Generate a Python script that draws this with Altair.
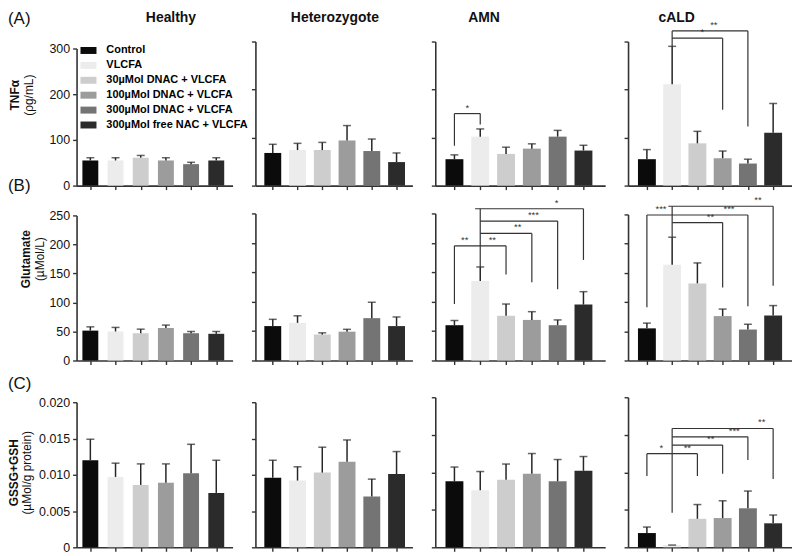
import altair as alt
import pandas as pd

FONT = "Liberation Sans"
AX = "#333333"
ERR = "#262626"

groups = ["Control", "VLCFA", "30µMol DNAC + VLCFA", "100µMol DNAC + VLCFA",
          "300µMol DNAC + VLCFA", "300µMol free NAC + VLCFA"]
bar_colors = ["#0b0b0b", "#ececec", "#cdcdcd", "#9c9c9c", "#747474", "#2b2b2b"]
columns = ["Healthy", "Heterozygote", "AMN", "cALD"]

# (A) TNFα (pg/mL): bar means and upper error-bar ends
tnf_mean = {"Healthy": [55, 55, 61, 55, 47, 55],
            "Heterozygote": [68, 74, 74, 94, 72, 49],
            "AMN": [55, 102, 66, 77, 102, 73],
            "cALD": [55, 211, 88, 57, 46, 110]}
tnf_top = {"Healthy": [61, 61, 66, 61, 51, 61],
           "Heterozygote": [86, 88, 90, 125, 97, 68],
           "AMN": [64, 118, 80, 87, 115, 84],
           "cALD": [75, 290, 113, 72, 55, 171]}

# (B) Glutamate (µMol/L)
glu_mean = {"Healthy": [51.5, 50, 47, 56, 47, 46],
            "Heterozygote": [58.5, 64, 44, 49, 72, 58.5],
            "AMN": [60, 135, 76, 69, 60, 95],
            "cALD": [55, 164, 132, 76, 53, 77]}
glu_top = {"Healthy": [58, 57, 54, 61, 50, 50],
           "Heterozygote": [70, 76, 47, 53, 99, 74],
           "AMN": [68, 159, 96, 83, 69, 117],
           "cALD": [64, 211, 167, 88, 62, 94]}

# (C) GSSG+GSH (µMol/g protein)
gsh_mean = {"Healthy": [0.0120, 0.0097, 0.0086, 0.0089, 0.0102, 0.0075],
            "Heterozygote": [0.0096, 0.0092, 0.0103, 0.0118, 0.0070, 0.0101],
            "AMN": [0.0088, 0.0076, 0.0090, 0.0098, 0.0088, 0.0102],
            "cALD": [0.0019, 0.0003, 0.0038, 0.0039, 0.0052, 0.0032]}
gsh_top = {"Healthy": [0.0149, 0.0116, 0.0115, 0.0115, 0.0142, 0.0120],
           "Heterozygote": [0.0120, 0.0111, 0.0138, 0.0148, 0.0094, 0.0132],
           "AMN": [0.0107, 0.0101, 0.0111, 0.0125, 0.0117, 0.0121],
           "cALD": [0.0027, 0.0003, 0.0057, 0.0062, 0.0075, 0.0043]}

# significance brackets: h = (from bar, to bar, level), v = (bar, low end, high end), s = (position, level, stars)
brackets = {
    ("A", "AMN"): {"h": [(0, 1, 150)],
                   "v": [(0, 83, 150), (1, 127, 150)],
                   "s": [(0.5, 150, "*")]},
    ("A", "cALD"): {"h": [(1, 3, 307), (1, 4, 322)],
                    "v": [(1, 290, 322), (3, 158, 307), (4, 123, 322)],
                    "s": [(2.2, 307, "*"), (2.65, 322, "**")]},
    ("B", "AMN"): {"h": [(0, 2, 195), (1, 3, 216), (1, 4, 237), (0.8, 5, 258)],
                   "v": [(0, 96, 195), (2, 146, 195), (3, 133, 216), (4, 121, 237),
                         (5, 171, 258), (1, 159, 258)],
                   "s": [(0.4, 195, "**"), (1.47, 195, "**"), (2.45, 216, "**"),
                         (3.06, 237, "***"), (3.96, 258, "*")]},
    ("B", "cALD"): {"h": [(0, 4, 249), (1, 3, 236), (0.85, 5, 264)],
                    "v": [(0, 91, 249), (3, 125, 236), (4, 93, 249), (5, 128, 264),
                          (1, 211, 264)],
                    "s": [(0.56, 249, "***"), (3.25, 249, "***"), (2.52, 236, "**"),
                          (4.4, 264, "**")]},
    ("C", "cALD"): {"h": [(0, 2, 0.01248), (1, 3, 0.01363), (1, 4, 0.01473), (1, 5, 0.01584)],
                    "v": [(0, 0.0095, 0.01248), (2, 0.0095, 0.01248), (3, 0.0098, 0.01363),
                          (4, 0.01164, 0.01473), (5, 0.00912, 0.01584), (1, 0.0046, 0.01584)],
                    "s": [(0.57, 0.01248, "*"), (1.6, 0.01248, "**"), (2.53, 0.01363, "**"),
                          (3.46, 0.01473, "***"), (4.55, 0.01584, "**")]},
}

panel_widths = [157, 158, 171, 165]
x_domains = [[-0.35, 5.45], [-0.5, 5.44], [-0.55, 5.65], [-0.55, 5.55]]
bar_sizes = [16, 17, 18, 18]
title_x = [95, 80, 49, 49]

rows = [
    dict(key="A", label="(A)", label_y=-18, means=tnf_mean, tops=tnf_top, height=145,
         top_gap=[7, 0, 0, 0],
         domain=[0, 300], ticks=[0, 100, 200, 300], fmt="format(datum.value, 'd')",
         ytitle=("TNFα", "(ρg/mL)"), tx=(-62, -48), ty=54),
    dict(key="B", label="(B)", label_y=-23, means=glu_mean, tops=glu_top, height=148,
         top_gap=[2, 0, 0, 1],
         domain=[0, 250], ticks=[0, 50, 100, 150, 200, 250], fmt="format(datum.value, 'd')",
         ytitle=("Glutamate", "(µMol/L)"), tx=(-51, -37), ty=46),
    dict(key="C", label="(C)", label_y=1, means=gsh_mean, tops=gsh_top, height=160,
         top_gap=[14, 14, 9, 9],
         domain=[0, 0.02], ticks=[0, 0.005, 0.01, 0.015, 0.02],
         fmt="datum.value == 0 ? '0' : format(datum.value, '.3f')",
         ytitle=("GSSG+GSH", "(µMol/g protein)"), tx=(-63, -50), ty=85),
]


def text_layer(txt, x, y, size, weight="normal", angle=0, align="left", baseline="alphabetic"):
    return alt.Chart(pd.DataFrame({"t": [txt]})).mark_text(
        font=FONT, fontSize=size, fontWeight=weight, angle=angle, align=align,
        baseline=baseline, color="#111111"
    ).encode(x=alt.value(x), y=alt.value(y), text="t:N")


def make_panel(r, ci):
    row = rows[r]
    col = columns[ci]
    df = pd.DataFrame({"idx": list(range(6)), "group": groups, "fill": bar_colors,
                       "mean": row["means"][col], "top": row["tops"][col]})
    xs = alt.Scale(domain=x_domains[ci], nice=False, zero=False)
    ys = alt.Scale(domain=row["domain"], nice=False, zero=True,
                   range=[row["height"], row["top_gap"][ci]])
    xaxis = alt.Axis(values=list(range(6)), labels=False, title=None, grid=False,
                     ticks=True, tickSize=4, tickColor=AX, tickWidth=1.4,
                     domainColor=AX, domainWidth=1.6)
    yaxis = alt.Axis(values=row["ticks"], labels=(ci == 0), labelExpr=row["fmt"],
                     title=None, grid=False, ticks=True, tickSize=4, tickColor=AX,
                     tickWidth=1.4, domainColor=AX, domainWidth=1.6,
                     labelFont=FONT, labelFontSize=12.5, labelColor="#111111",
                     labelPadding=3)

    def X(f):
        return alt.X(f, type="quantitative", scale=xs, axis=xaxis)

    def Y(f):
        return alt.Y(f, type="quantitative", scale=ys, axis=yaxis)

    if r == 0 and ci == 0:
        color = alt.Color("group:N", scale=alt.Scale(domain=groups, range=bar_colors),
                          legend=alt.Legend(orient="none", legendX=5, legendY=2, title=None,
                                            symbolType="M-1.15,-0.5H1.15V0.5H-1.15Z",
                                            symbolSize=196, symbolStrokeWidth=0,
                                            symbolOpacity=1, labelFont=FONT,
                                            labelFontSize=11, labelFontWeight="bold",
                                            labelColor="#000000", labelOffset=11,
                                            rowPadding=3, padding=0, labelLimit=300))
    else:
        color = alt.Color("fill:N", scale=None)

    layers = [
        alt.Chart(df).mark_bar(size=bar_sizes[ci], orient="vertical").encode(
            x=X("idx"), y=Y("mean"), color=color),
        alt.Chart(df).mark_rule(color=ERR, strokeWidth=1.5).encode(
            x=X("idx"), y=Y("mean"), y2="top:Q"),
        alt.Chart(df).mark_tick(orient="horizontal", size=8, thickness=1.5, color=ERR).encode(
            x=X("idx"), y=Y("top")),
    ]

    b = brackets.get((row["key"], col))
    if b:
        hdf = pd.DataFrame(b["h"], columns=["a", "b", "lvl"])
        vdf = pd.DataFrame(b["v"], columns=["bar", "lo", "hi"])
        sdf = pd.DataFrame(b["s"], columns=["pos", "lvl", "txt"])
        layers += [
            alt.Chart(hdf).mark_rule(color=AX, strokeWidth=1.2).encode(
                x=X("a"), x2="b:Q", y=Y("lvl")),
            alt.Chart(vdf).mark_rule(color=AX, strokeWidth=1.2).encode(
                x=X("bar"), y=Y("lo"), y2="hi:Q"),
            alt.Chart(sdf).mark_text(font=FONT, fontSize=9.5, fontWeight="normal",
                                     color=AX, fill=AX,
                                     baseline="bottom", dy=-1).encode(
                x=X("pos"), y=Y("lvl"), text="txt:N"),
        ]

    if r == 0:
        layers.append(text_layer(col, title_x[ci], -20, 14, "bold", align="center"))
    if ci == 0:
        layers.append(text_layer(row["label"], -69, row["label_y"], 17))
        layers.append(text_layer(row["ytitle"][0], row["tx"][0], row["ty"], 12, "bold",
                                 angle=270, align="center", baseline="middle"))
        layers.append(text_layer(row["ytitle"][1], row["tx"][1], row["ty"], 12, "normal",
                                 angle=270, align="center", baseline="middle"))

    return alt.layer(*layers).properties(width=panel_widths[ci], height=row["height"])


panels = [make_panel(r, c) for r in range(3) for c in range(4)]

chart = alt.concat(*panels, columns=4, spacing={"row": 28, "column": 23},
                   bounds="flush").properties(padding=0).configure(
    font=FONT).configure_view(stroke=None)

chart.save("out.html", embed_options={"renderer": "svg", "actions": False})
